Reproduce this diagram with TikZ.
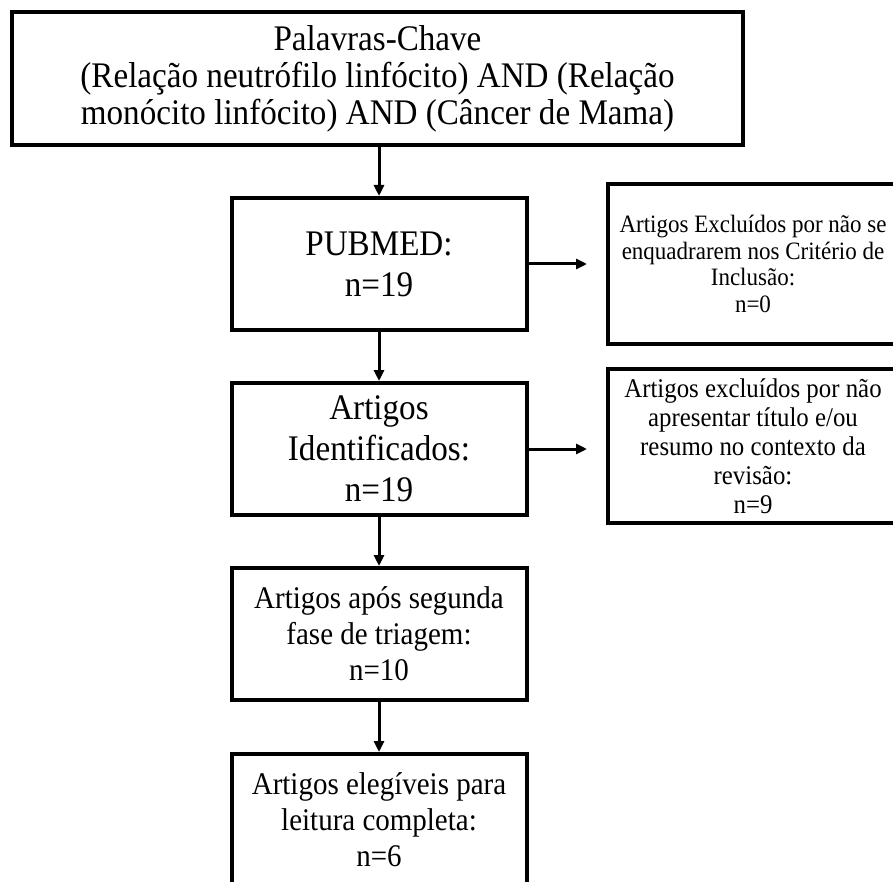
\documentclass[tikz,border=0pt]{standalone}
\usepackage{fontspec}
\setmainfont{Liberation Serif}[FakeStretch=0.92]
\usetikzlibrary{arrows.meta}
\begin{document}
\begin{tikzpicture}[x=1pt,y=-1pt,
  box/.style={draw=black,line width=4pt,inner sep=0pt,align=center,fill=white},
  arr/.style={line width=3pt,-{Triangle[length=11pt,width=10pt]}}]
\useasboundingbox (0,0) rectangle (893,882);
\clip (0,0) rectangle (893,882);
\node[box,minimum width=731pt,minimum height=133pt,font=\fontsize{36pt}{37pt}\selectfont] (top) at (377.5,78.5)
  {Palavras-Chave\\(Relação neutrófilo linfócito) AND (Relação\\monócito linfócito) AND (Câncer de Mama)};
\node[box,minimum width=295pt,minimum height=132pt,font=\fontsize{36pt}{41pt}\selectfont] (pub) at (379,264)
  {PUBMED:\\n=19};
\node[box,minimum width=295pt,minimum height=132pt,font=\fontsize{36pt}{41pt}\selectfont] (ide) at (379,449)
  {Artigos\\Identificados:\\n=19};
\node[box,minimum width=295pt,minimum height=132pt,font=\fontsize{31.5pt}{36pt}\selectfont] (apo) at (379,634)
  {Artigos após segunda\\fase de triagem:\\n=10};
\node[box,minimum width=295pt,minimum height=132pt,font=\fontsize{31.5pt}{36pt}\selectfont] (ele) at (379,820)
  {Artigos elegíveis para\\leitura completa:\\n=6};
\node[box,minimum width=290pt,minimum height=160pt,font=\fontsize{25pt}{26.5pt}\selectfont] (ex1) at (753,264)
  {Artigos Excluídos por não se\\enquadrarem nos Critério de\\Inclusão:\\n=0};
\node[box,minimum width=290pt,minimum height=154pt,font=\fontsize{27pt}{29pt}\selectfont] (ex2) at (753,446)
  {Artigos excluídos por não\\apresentar título e/ou\\resumo no contexto da\\revisão:\\n=9};
\draw[arr] (top.south -| pub.north) -- (pub.north);
\draw[arr] (pub.south) -- (ide.north);
\draw[arr] (ide.south) -- (apo.north);
\draw[arr] (apo.south) -- (ele.north);
\draw[arr,shorten >=19pt] (pub.east) -- (pub.east -| ex1.west);
\draw[arr,shorten >=19pt] (ide.east) -- (ide.east -| ex2.west);
\end{tikzpicture}
\end{document}
